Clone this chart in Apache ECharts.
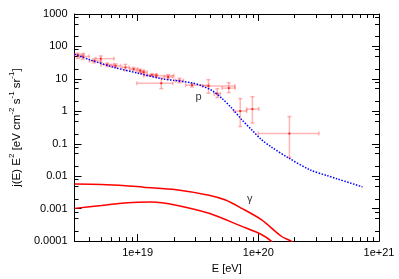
<!DOCTYPE html>
<html><head><meta charset="utf-8">
<script src="https://cdn.jsdelivr.net/npm/echarts@6/dist/echarts.min.js"></script>
<style>html,body{margin:0;padding:0;background:#fff}#c{width:399px;height:279px}</style>
</head><body><div id="c"></div>
<script>
// ---- axis ticks / labels ----
const xMin = 3e18, xMax = 1e21, yMin = 1e-4, yMax = 1000;
const xMajorTicks = [1e19, 1e20, 1e21];
const xTickLabels = ['1e+19', '1e+20', '1e+21'];
const xMinorMantissas = [2, 3, 4, 5, 6, 7, 8, 9];
const xDecades = [1e18, 1e19, 1e20];
const yMajorTicks = [1e-4, 1e-3, 1e-2, 0.1, 1, 10, 100, 1000];
const yTickLabels = ['0.0001', '0.001', '0.01', '0.1', '1', '10', '100', '1000'];
const yMinorMantissas = [2, 5, 8];
const yDecades = [1e-4, 1e-3, 1e-2, 0.1, 1, 10, 100];

// ---- proton model (blue dotted) ----
const protonE = [3e18, 4e18, 6.4e18, 1e19, 1.6e19, 2e19, 2.86e19, 3.44e19, 4.16e19, 5.0e19, 6.05e19, 7.3e19, 8.8e19, 1.06e20, 1.28e20, 1.75e20, 2.7e20, 3.7e20, 4.5e20, 7.3e20];
const protonJ = [58, 39, 22.6, 15.1, 10, 9.0, 7.4, 6.0, 4.3, 2.5, 1.23, 0.55, 0.27, 0.135, 0.08, 0.038, 0.0155, 0.0105, 0.0083, 0.0047];

// ---- gamma models (red) ----
const gammaUpperE = [3e18, 5e18, 8e18, 1.12e19, 2.09e19, 3.9e19, 5.35e19, 7.3e19, 1.06e20, 1.55e20, 1.87e20, 2.1e20];
const gammaUpperJ = [0.0058, 0.0056, 0.0051, 0.0046, 0.00385, 0.0026, 0.00184, 0.00102, 0.000457, 0.000141, 0.0001, 0.00007];
const gammaLowerE = [3e18, 5e18, 7e18, 1e19, 1.3e19, 2.09e19, 3.9e19, 7.3e19, 1.06e20, 1.28e20, 1.45e20];
const gammaLowerJ = [0.00102, 0.00125, 0.00145, 0.00158, 0.0016, 0.00128, 0.00072, 0.000285, 0.00016, 0.0001, 0.00006];

// ---- measured points with error bars ----
const pointE   = [3.18e18, 3.5e18, 4.37e18, 4.95e18, 5.6e18, 6.56e18, 7.92e18, 9.25e18, 1.05e19, 1.12e19, 1.31e19, 1.43e19, 1.57e19, 1.79e19, 2.22e19, 2.82e19, 3.86e19, 4.57e19, 5.69e19, 7.08e19, 8.93e19, 1.81e20];
const pointJ   = [55, 49, 36, 42, 27.5, 25.3, 22.6, 20.1, 17.9, 16.0, 13.2, 12.6, 7.3, 11.5, 8.9, 6.4, 6.0, 3.5, 5.2, 1.02, 1.17, 0.206];
const pointElo = [2.96e18, 3.3e18, 3.97e18, 4.5e18, 4.95e18, 6.0e18, 7.4e18, 8.6e18, 9.8e18, 1.05e19, 1.2e19, 1.12e19, 9.85e18, 1.65e19, 2.05e19, 2.5e19, 3.44e19, 4.3e19, 5.0e19, 6.25e19, 8.0e19, 1.0e20];
const pointEhi = [3.6e18, 3.97e18, 4.95e18, 6.36e18, 6.36e18, 7.2e18, 8.5e18, 1.0e19, 1.13e19, 1.2e19, 1.43e19, 2.0e19, 1.96e19, 1.95e19, 2.4e19, 3.9e19, 6.4e19, 4.85e19, 6.44e19, 8.0e19, 1.01e20, 3.18e20];
const pointJlo = [43, 40, 31, 32, 24, 22, 18, 18, 16, 14.5, 12, 11.3, 5.0, 10, 7.6, 5.6, 3.6, 2.65, 3.77, 0.34, 0.437, 0.038];
const pointJhi = [62, 60, 42, 51, 31, 29, 28, 22.5, 20, 17.5, 14.5, 14, 10.7, 13.5, 10.5, 7.2, 9.5, 5.0, 7.6, 2.48, 2.81, 0.69];

// ---- annotations ----
const annotText = ['p', 'γ'];
const annotE = [3.2e19, 8.5e19];
const annotJ = [2.85, 0.00205];

const L = Math.log10;
const FONT = 'Liberation Sans, Arial, Helvetica, sans-serif';

const xMinor = [];
xDecades.forEach(d => xMinorMantissas.forEach(m => { const v = m * d; if (v > xMin && v < xMax) xMinor.push(L(v)); }));
const yMinor = [];
yDecades.forEach(d => yMinorMantissas.forEach(m => { const v = m * d; if (v > yMin && v < yMax) yMinor.push(L(v)); }));

function labelFor(ticks, labels) {
  return v => { const i = ticks.findIndex(t => Math.abs(L(t) - v) < 1e-6); return i >= 0 ? labels[i] : ''; };
}

function mkAxis(dim, pos, ticks, len, showLine, labelCfg, extra) {
  const ax = {
    type: 'value', position: pos, gridIndex: 0,
    min: dim === 'x' ? L(xMin) : L(yMin),
    max: dim === 'x' ? L(xMax) : L(yMax),
    splitLine: { show: false },
    axisLine: { show: showLine, onZero: false, lineStyle: { color: '#000', width: 1 } },
    axisTick: { show: true, inside: true, length: len, customValues: ticks, lineStyle: { color: '#000', width: 1 } },
    axisLabel: labelCfg || { show: false },
    silent: true
  };
  return Object.assign(ax, extra || {});
}

const xLabelCfg = { show: true, customValues: xMajorTicks.map(L), formatter: labelFor(xMajorTicks, xTickLabels), color: '#000', fontSize: 11, fontFamily: FONT, margin: 6 };
const yLabelCfg = { show: true, customValues: yMajorTicks.map(L), formatter: labelFor(yMajorTicks, yTickLabels), color: '#000', fontSize: 11, fontFamily: FONT, margin: 7 };

const xAxes = [
  mkAxis('x', 'bottom', xMajorTicks.map(L), 7, true, xLabelCfg, {
    name: 'E [eV]', nameLocation: 'middle', nameGap: 17,
    nameTextStyle: { color: '#000', fontSize: 11, fontFamily: FONT }
  }),
  mkAxis('x', 'bottom', xMinor, 4, false),
  mkAxis('x', 'top', xMajorTicks.map(L), 7, true),
  mkAxis('x', 'top', xMinor, 4, false)
];
const yAxes = [
  mkAxis('y', 'left', yMajorTicks.map(L), 7, true, yLabelCfg, {
    name: '{n|j(E) E}{s|2}{n| [eV cm}{s|-2}{n| s}{s|-1}{n| sr}{s|-1}{n|]}',
    nameLocation: 'middle', nameGap: 50, nameRotate: 90,
    nameTextStyle: {
      rich: {
        n: { fontSize: 11.5, fontFamily: FONT, color: '#000', lineHeight: 15, verticalAlign: 'bottom' },
        s: { fontSize: 8, fontFamily: FONT, color: '#000', lineHeight: 9, verticalAlign: 'top' }
      }
    }
  }),
  mkAxis('y', 'left', yMinor, 4, false),
  mkAxis('y', 'right', yMajorTicks.map(L), 7, true),
  mkAxis('y', 'right', yMinor, 4, false)
];

const zip = (a, b) => a.map((v, i) => [L(v), L(b[i])]);
const errData = pointE.map((e, i) => [L(e), L(pointJ[i]), L(pointElo[i]), L(pointEhi[i]), L(pointJlo[i]), L(pointJhi[i])]);

const ERR = 'rgba(255,80,80,0.42)';
const CAP = 2;
function renderErr(params, api) {
  const c = api.coord([api.value(0), api.value(1)]);
  const xl = api.coord([api.value(2), api.value(1)])[0];
  const xh = api.coord([api.value(3), api.value(1)])[0];
  const yl = api.coord([api.value(0), api.value(4)])[1];
  const yh = api.coord([api.value(0), api.value(5)])[1];
  const st = { stroke: ERR, lineWidth: 1.5, fill: null };
  const line = (x1, y1, x2, y2) => ({ type: 'line', shape: { x1, y1, x2, y2 }, style: st });
  return {
    type: 'group',
    children: [
      line(xl, c[1], xh, c[1]),
      line(c[0], yl, c[0], yh),
      line(xl, c[1] - CAP, xl, c[1] + CAP),
      line(xh, c[1] - CAP, xh, c[1] + CAP),
      line(c[0] - CAP, yl, c[0] + CAP, yl),
      line(c[0] - CAP, yh, c[0] + CAP, yh),
      { type: 'rect', shape: { x: c[0] - 1, y: c[1] - 1, width: 2, height: 2 }, style: { fill: 'rgba(230,0,0,0.7)' } }
    ]
  };
}

const lineCommon = { showSymbol: false, clip: true, z: 3, smooth: 0.3, xAxisIndex: 0, yAxisIndex: 0 };
const chart = echarts.init(document.getElementById('c'), null, { renderer: 'canvas' });
chart.setOption({
  backgroundColor: '#fff',
  animation: false,
  grid: { left: 70, right: 20, top: 14, bottom: 34, containLabel: false },
  xAxis: xAxes,
  yAxis: yAxes,
  series: [
    { type: 'custom', name: 'data', renderItem: renderErr, data: errData, clip: true, z: 2,
      encode: { x: 0, y: 1 }, xAxisIndex: 0, yAxisIndex: 0 },
    Object.assign({ type: 'line', name: 'p', data: zip(protonE, protonJ),
      lineStyle: { color: '#0000ff', width: 1.5, type: [1.5, 1.5] } }, lineCommon),
    Object.assign({ type: 'line', name: 'gamma1', data: zip(gammaUpperE, gammaUpperJ),
      lineStyle: { color: '#ff0000', width: 1.5 } }, lineCommon),
    Object.assign({ type: 'line', name: 'gamma2', data: zip(gammaLowerE, gammaLowerJ),
      lineStyle: { color: '#ff0000', width: 1.5 } }, lineCommon),
    { type: 'scatter', name: 'labels', symbolSize: 0, z: 4, xAxisIndex: 0, yAxisIndex: 0,
      data: annotText.map((t, i) => ({ name: t, value: [L(annotE[i]), L(annotJ[i])] })),
      label: { show: true, position: 'inside', formatter: '{b}', color: '#000', fontSize: 11, fontFamily: FONT } }
  ]
});
</script>
</body></html>
